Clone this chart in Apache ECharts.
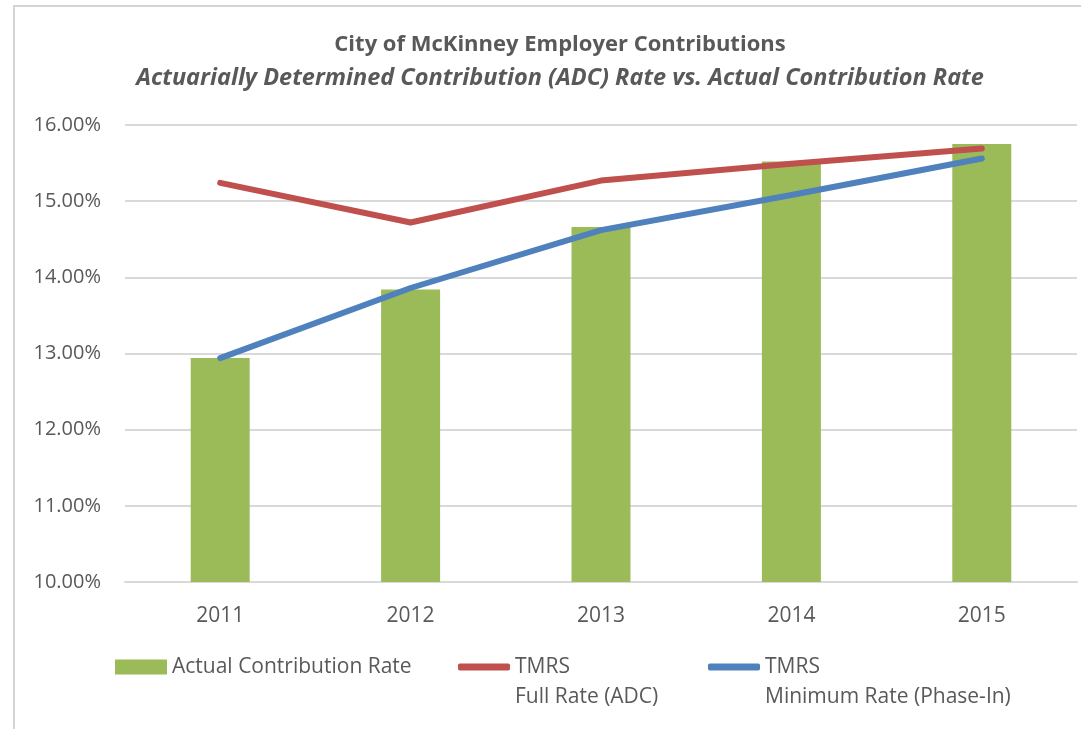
<!DOCTYPE html>
<html>
<head>
<meta charset="utf-8">
<script src="https://cdn.jsdelivr.net/npm/echarts@6/dist/echarts.min.js"></script>
<style>
  body { margin: 0; background: #fff; }
  #main { width: 1089px; height: 729px; }
  /* chart frame, only left + top edges are visible in the picture */
  #frame {
    position: absolute; left: 13px; top: 5px; width: 1066px; height: 730px;
    border-left: 2px solid #d4d4d4; border-top: 2px solid #d4d4d4;
    pointer-events: none;
  }
</style>
</head>
<body>
<div id="frame"></div>
<div id="main"></div>
<script>
// data (values in %)
const years = ["2011", "2012", "2013", "2014", "2015"];
const actualRate = [12.94, 13.84, 14.66, 15.52, 15.75];
const fullRate = [15.24, 14.72, 15.27, 15.49, 15.69];
const minRate = [12.94, 13.86, 14.62, 15.08, 15.56];

const nameActual = "Actual Contribution Rate";
const nameFull = "TMRS\nFull Rate (ADC)";
const nameMin = "TMRS\nMinimum Rate (Phase-In)";

const font = '"Open Sans", "DejaVu Sans", sans-serif';
const textColor = "#595959";

const chart = echarts.init(document.getElementById("main"));

const legendText = { color: textColor, fontFamily: font, fontSize: 21, lineHeight: 30 };
// two-line items: an empty first line keeps "TMRS" level with the icon
const twoLine = name => "\n" + name;

chart.setOption({
  animation: false,
  graphic: [
    {
      type: "text", x: 560, y: 45,
      style: {
        text: "City of McKinney Employer Contributions",
        fill: textColor, font: 'bold 22px ' + font,
        textAlign: "center", textVerticalAlign: "middle"
      }
    },
    {
      type: "text", x: 560, y: 78,
      style: {
        text: "Actuarially Determined Contribution (ADC) Rate vs. Actual Contribution Rate",
        fill: textColor, font: 'italic bold 23.5px ' + font,
        textAlign: "center", textVerticalAlign: "middle"
      }
    }
  ],
  grid: { left: 125, right: 12, top: 125, bottom: 147 },
  legend: [
    {
      data: [{ name: nameActual, icon: "rect" }], left: 115, top: 652, padding: 0,
      itemWidth: 52, itemHeight: 15, textStyle: legendText
    },
    {
      data: [{ name: nameFull, icon: "roundRect" }], left: 458, top: 622, padding: 0,
      itemWidth: 52, itemHeight: 7, textStyle: legendText, formatter: twoLine
    },
    {
      data: [{ name: nameMin, icon: "roundRect" }], left: 708, top: 622, padding: 0,
      itemWidth: 52, itemHeight: 7, textStyle: legendText, formatter: twoLine
    }
  ],
  xAxis: {
    type: "category",
    data: years,
    axisLine: { lineStyle: { color: "#d9d9d9", width: 2 } },
    axisTick: { show: false },
    axisLabel: { color: textColor, fontFamily: font, fontSize: 21, margin: 24 }
  },
  yAxis: {
    type: "value",
    min: 10, max: 16, interval: 1,
    axisLine: { show: false },
    axisTick: { show: false },
    splitLine: { lineStyle: { color: "#d9d9d9", width: 2 } },
    axisLabel: {
      color: textColor, fontFamily: font, fontSize: 20, margin: 24,
      formatter: v => v.toFixed(2) + "%"
    }
  },
  series: [
    {
      name: nameActual,
      type: "bar",
      data: actualRate,
      barWidth: 59,
      itemStyle: { color: "#9bbb59" }
    },
    {
      name: nameFull,
      type: "line",
      data: fullRate,
      symbol: "none",
      lineStyle: { color: "#c0504d", width: 6, cap: "round", join: "round" },
      itemStyle: { color: "#c0504d" }
    },
    {
      name: nameMin,
      type: "line",
      data: minRate,
      symbol: "none",
      lineStyle: { color: "#4f81bd", width: 6, cap: "round", join: "round" },
      itemStyle: { color: "#4f81bd" }
    }
  ]
});
</script>
</body>
</html>
